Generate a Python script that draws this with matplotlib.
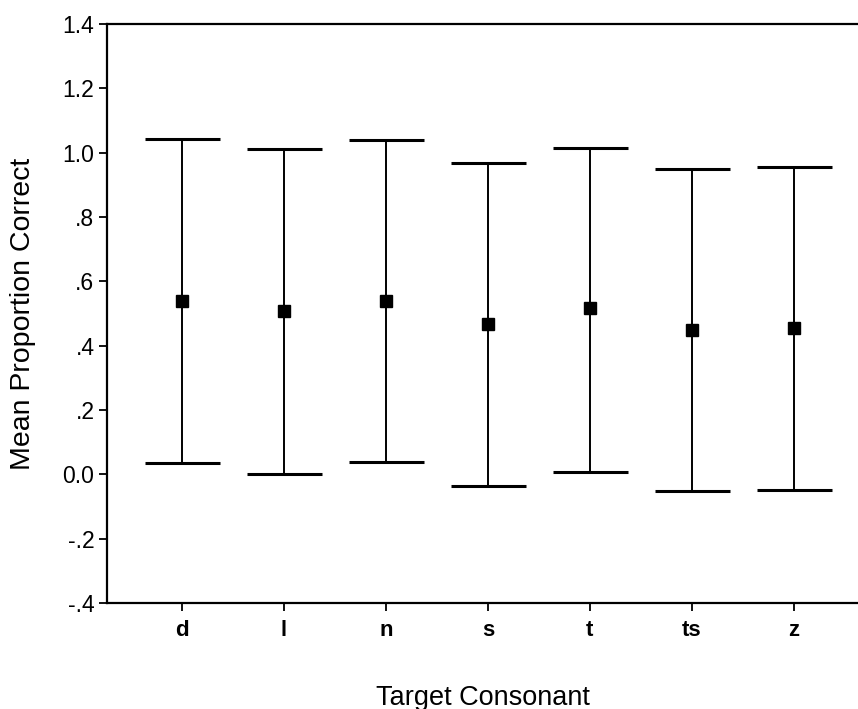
import matplotlib
matplotlib.use("Agg")
import matplotlib.pyplot as plt
import numpy as np

categories = ["d", "l", "n", "s", "t", "ts", "z"]
means = [0.540, 0.509, 0.540, 0.467, 0.516, 0.449, 0.455]
upper = [1.042, 1.011, 1.040, 0.968, 1.016, 0.951, 0.957]
lower = [0.036, 0.001, 0.037, -0.036, 0.007, -0.053, -0.049]
yticks = [-0.4, -0.2, 0.0, 0.2, 0.4, 0.6, 0.8, 1.0, 1.2, 1.4]
ytick_labels = ["-.4", "-.2", "0.0", ".2", ".4", ".6", ".8", "1.0", "1.2", "1.4"]

plt.rcParams['font.family'] = ['Liberation Sans', 'DejaVu Sans']

fig = plt.figure(figsize=(8.58, 7.09), dpi=100)
ax = fig.add_axes([0.1247, 0.1495, 0.8753, 0.8165])

x = np.arange(1, len(categories) + 1)
m = np.array(means)
yerr = np.vstack([m - np.array(lower), np.array(upper) - m])
ax.errorbar(x, m, yerr=yerr, fmt='s', color='black', ms=8.5, elinewidth=1.4,
            capsize=27, capthick=2.2, ecolor='black')

ax.set_xlim(0.265, 7.63)
ax.set_ylim(-0.4, 1.4)
ax.set_yticks(yticks)
ax.set_yticklabels(ytick_labels)
ax.set_xticks(x)
ax.set_xticklabels(categories, fontweight='bold')

ax.tick_params(axis='y', direction='out', length=6, width=1.3, labelsize=16.5, pad=3)
ax.tick_params(axis='x', direction='out', length=6, width=1.3, labelsize=16, pad=6)

for s in ['left', 'bottom', 'top']:
    ax.spines[s].set_linewidth(1.6)
ax.spines['right'].set_visible(False)

ax.set_ylabel("Mean Proportion Correct", fontsize=20.5)
ax.yaxis.set_label_coords(-0.095, 0.5)
ax.set_xlabel("Target Consonant", fontsize=19.5)
ax.xaxis.set_label_coords(0.5, -0.141)

fig.savefig("out.png", dpi=100)
